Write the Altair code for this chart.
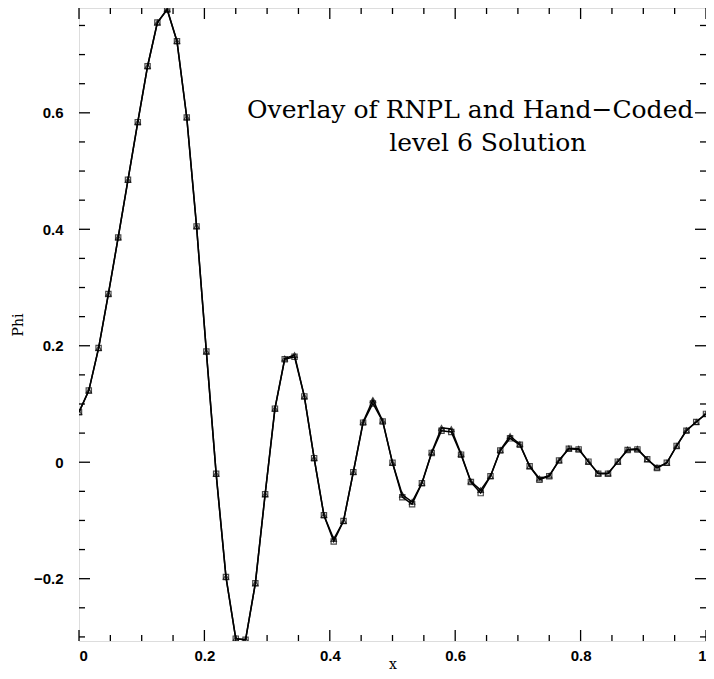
import altair as alt
import pandas as pd

N = 64
xs = [i / N for i in range(N + 1)]

phi_rnpl = [
    0.086, 0.123, 0.196, 0.289, 0.386, 0.485, 0.584, 0.680, 0.755, 0.777,
    0.723, 0.592, 0.405, 0.190, -0.020, -0.197, -0.303, -0.305, -0.208, -0.055,
    0.092, 0.177, 0.181, 0.113, 0.007, -0.091, -0.136, -0.101, -0.017, 0.068,
    0.101, 0.070, -0.001, -0.060, -0.072, -0.036, 0.016, 0.054, 0.052, 0.013,
    -0.034, -0.053, -0.024, 0.020, 0.041, 0.030, -0.007, -0.030, -0.024, 0.003,
    0.023, 0.022, 0.001, -0.020, -0.020, 0.001, 0.021, 0.022, 0.005, -0.010,
    -0.001, 0.028, 0.054, 0.069, 0.083,
]
phi_hand = [
    0.086, 0.123, 0.196, 0.289, 0.386, 0.485, 0.584, 0.680, 0.755, 0.778,
    0.723, 0.592, 0.405, 0.190, -0.020, -0.197, -0.303, -0.305, -0.208, -0.055,
    0.092, 0.178, 0.184, 0.113, 0.007, -0.091, -0.132, -0.101, -0.017, 0.069,
    0.107, 0.071, -0.001, -0.056, -0.068, -0.036, 0.017, 0.059, 0.057, 0.014,
    -0.033, -0.048, -0.024, 0.021, 0.045, 0.031, -0.007, -0.028, -0.023, 0.003,
    0.024, 0.023, 0.001, -0.019, -0.019, 0.001, 0.022, 0.023, 0.005, -0.009,
    -0.001, 0.028, 0.055, 0.069, 0.083,
]

x_major = [0, 0.2, 0.4, 0.6, 0.8, 1.0]
x_minor = [0.05, 0.1, 0.15, 0.25, 0.3, 0.35, 0.45, 0.5, 0.55, 0.65, 0.7, 0.75, 0.85, 0.9, 0.95]
y_major = [-0.2, 0, 0.2, 0.4, 0.6]
y_minor = [-0.3, -0.25, -0.15, -0.1, -0.05, 0.05, 0.1, 0.15, 0.25, 0.3, 0.35, 0.45, 0.5, 0.55, 0.65, 0.7, 0.75]

title_lines = ["Overlay of RNPL and Hand\u2212Coded", "level 6 Solution"]
title_x = [0.624, 0.652]
title_y = [0.605, 0.548]

W, H = 627, 633
MAJ, MIN = 11, 6

xscale = alt.Scale(domain=[0, 1], nice=False, zero=False)
yscale = alt.Scale(domain=[-0.307, 0.78], nice=False, zero=False)

df = pd.DataFrame({
    "x": xs * 2,
    "phi": phi_rnpl + phi_hand,
    "series": ["RNPL"] * len(xs) + ["Hand-Coded"] * len(xs),
})

xaxis = alt.Axis(values=x_major, format="~g", ticks=False, domain=False, grid=False,
                 labelFont="Liberation Sans", labelFontWeight="bold", labelFontSize=15,
                 labelPadding=7, title="x", titleFont="DejaVu Serif", titleFontSize=14,
                 titleFontWeight="normal", titleY=23, titleBaseline="middle")
yaxis = alt.Axis(values=y_major, format="~g", ticks=False, domain=False, grid=False,
                 labelFont="Liberation Sans", labelFontWeight="bold", labelFontSize=15,
                 labelPadding=16, title="Phi", titleFont="DejaVu Serif", titleFontSize=14,
                 titleFontWeight="normal", titleX=-61, titleY=H / 2, titleAngle=270,
                 titleBaseline="middle", titleAlign="center")

base = alt.Chart(df)
lines = base.mark_line(color="black", strokeWidth=1.5, clip=True).encode(
    x=alt.X("x:Q", scale=xscale, axis=xaxis),
    y=alt.Y("phi:Q", scale=yscale, axis=yaxis),
    detail="series:N",
)
points = base.mark_point(filled=False, color="black", strokeWidth=1.2, size=28, clip=True).encode(
    x=alt.X("x:Q", scale=xscale),
    y=alt.Y("phi:Q", scale=yscale),
    shape=alt.Shape("series:N", scale=alt.Scale(domain=["RNPL", "Hand-Coded"],
                                                range=["square", "triangle-up"]), legend=None),
)

def xticks(vals, length):
    d = pd.DataFrame({"t": vals})
    c = alt.Chart(d)
    bot = c.mark_rule(color="black", strokeWidth=1.3).encode(
        x=alt.X("t:Q", scale=xscale), y=alt.value(H), y2=alt.value(H - length))
    top = c.mark_rule(color="black", strokeWidth=1.3).encode(
        x=alt.X("t:Q", scale=xscale), y=alt.value(0), y2=alt.value(length))
    return [bot, top]

def yticks(vals, length):
    d = pd.DataFrame({"t": vals})
    c = alt.Chart(d)
    left = c.mark_rule(color="black", strokeWidth=1.3).encode(
        y=alt.Y("t:Q", scale=yscale), x=alt.value(0), x2=alt.value(length))
    right = c.mark_rule(color="black", strokeWidth=1.3).encode(
        y=alt.Y("t:Q", scale=yscale), x=alt.value(W), x2=alt.value(W - length))
    return [left, right]

tdf = pd.DataFrame({"label": title_lines, "tx": title_x, "ty": title_y})
titles = alt.Chart(tdf).mark_text(font="DejaVu Serif", fontSize=25, color="black",
                                  align="center", baseline="middle").encode(
    x=alt.X("tx:Q", scale=xscale), y=alt.Y("ty:Q", scale=yscale), text="label:N")

layers = [lines, points, titles] + xticks(x_major, MAJ) + xticks(x_minor, MIN) \
    + yticks(y_major, MAJ) + yticks(y_minor, MIN)

chart = alt.layer(*layers).properties(
    width=W, height=H,
    autosize=alt.AutoSizeParams(type="none"),
    padding={"left": 71, "top": 0, "right": 0, "bottom": 30},
).configure_view(stroke="black", strokeWidth=2).configure(background="white")

chart.save("out.html", embed_options={"renderer": "svg", "actions": False})
